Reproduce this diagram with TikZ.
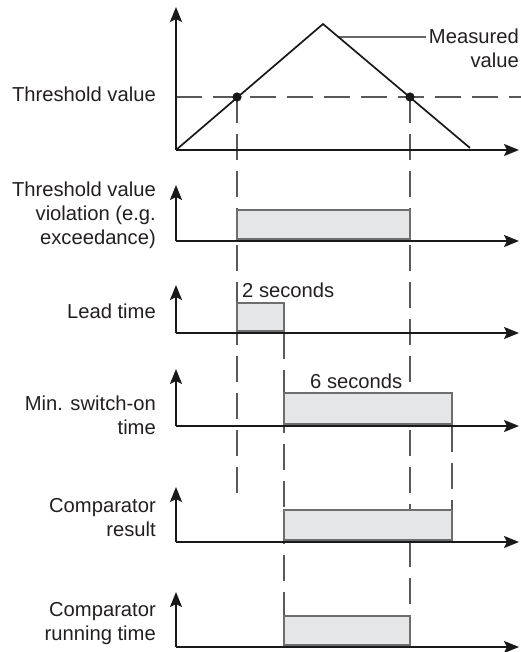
\documentclass[tikz,border=0pt]{standalone}
\usepackage{fontspec}
\setmainfont{Liberation Sans}
\usetikzlibrary{arrows.meta,calc}
\definecolor{txt}{HTML}{231F20}
\definecolor{boxfill}{HTML}{E5E6E8}
\definecolor{boxline}{HTML}{6D6E70}
\definecolor{dashc}{HTML}{58595B}
\begin{document}
\begin{tikzpicture}[x=1pt,y=-1pt,
  axis/.style={line width=2pt, draw=black!90, -{Stealth[length=15pt,width=12pt,inset=3pt]}},
  curve/.style={line width=1.7pt, draw=black!90},
  guide/.style={line width=1.2pt, draw=dashc, dash pattern=on 26pt off 11pt},
  sigbox/.style={draw=boxline, fill=boxfill, line width=1.2pt},
  lbl/.style={font=\fontsize{20.2}{24}\selectfont, text=txt, inner sep=0pt, align=right, anchor=base east},
  note/.style={font=\fontsize{20.2}{24}\selectfont, text=txt, inner sep=0pt, anchor=base west}]
\useasboundingbox (0,0) rectangle (521,652);

% key coordinates
\coordinate (o1) at (176,150);
\coordinate (peak) at (323,24);
\coordinate (tend) at (470,148);
\coordinate (d1) at (237,97);
\coordinate (d2) at (410,97);
\coordinate (thL) at (176,97);
\coordinate (thR) at (521,97);

% guides
\draw[guide] (thL) -- (thR);
\draw[guide] (d1) -- (237,500);
\draw[guide] (d2) -- (410,616);
\draw[guide] (284,333) -- (284,616);
\draw[guide] (452,426) -- (452,510);

% boxes
\draw[sigbox] (237,210) rectangle (410,239);
\draw[sigbox] (237,303) rectangle (284,331);
\draw[sigbox] (284,393) rectangle (452,424);
\draw[sigbox] (284,510) rectangle (452,540);
\draw[sigbox] (284,616) rectangle (410,645);

% measured curve
\draw[curve] (o1) -- (peak) -- (tend);
\fill[black!90] (d1) circle (4.6pt);
\fill[black!90] (d2) circle (4.6pt);
\coordinate (lstart) at ($(peak)!0.105!(tend)$);
\coordinate (lend) at (426,37);
\draw[line width=1.1pt, black!90] (lstart) -- (lend);
\node[lbl] (mv) at (519,68) {Measured\\value};

% axes
\draw[axis] (o1) -- (176,7);
\draw[axis] (o1) -- (519,150);
\coordinate (o2) at (176,241);
\draw[axis] (o2) -- (176,185);
\draw[axis] (o2) -- (519,241);
\coordinate (o3) at (176,333);
\draw[axis] (o3) -- (176,285);
\draw[axis] (o3) -- (519,333);
\coordinate (o4) at (176,426);
\draw[axis] (o4) -- (176,369);
\draw[axis] (o4) -- (519,426);
\coordinate (o5) at (176,542);
\draw[axis] (o5) -- (176,487);
\draw[axis] (o5) -- (519,542);
\coordinate (o6) at (176,647);
\draw[axis] (o6) -- (176,592);
\draw[axis] (o6) -- (519,647);

% labels
\node[lbl] (l1) at (156,102) {Threshold value};
\node[lbl] (l2) at (156,244) {Threshold value\\violation (e.g.\\exceedance)};
\node[lbl] (l3) at (156,318) {Lead time};
\node[lbl] (l4) at (156,434) {Min. switch-on\\time};
\node[lbl] (l5) at (156,536) {Comparator\\result};
\node[lbl] (l6) at (156,640) {Comparator\\running time};
\node[note] (s2) at (242,297) {2 seconds};
\node[note] (s6) at (310,388) {6 seconds};
\end{tikzpicture}
\end{document}
